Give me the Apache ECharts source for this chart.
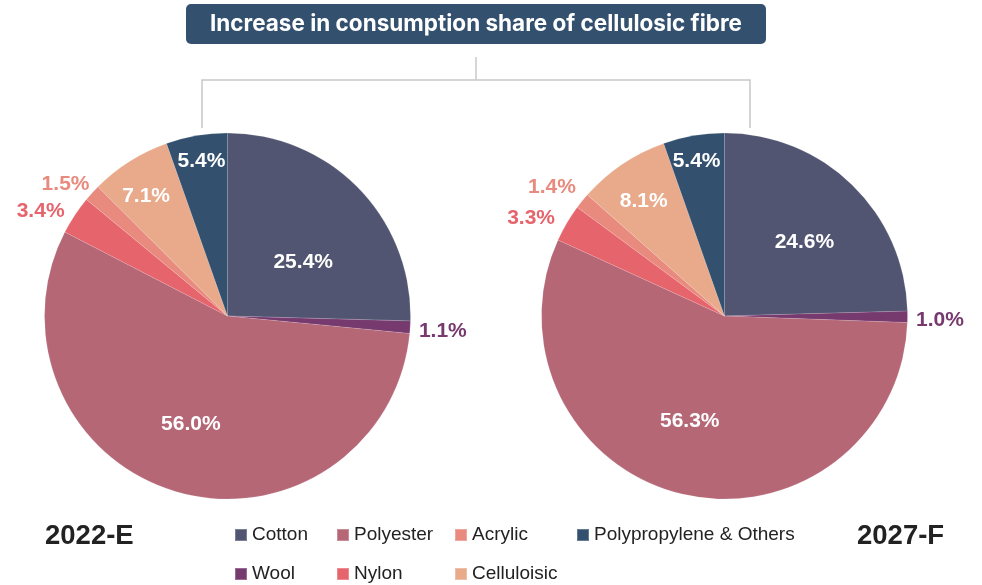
<!DOCTYPE html>
<html>
<head>
<meta charset="utf-8">
<script src="https://cdn.jsdelivr.net/npm/echarts@6/dist/echarts.min.js"></script>
<style>
  html, body { margin: 0; padding: 0; background: #fff; }
  #chart { width: 982px; height: 585px; }
</style>
</head>
<body>
<div id="chart"></div>
<script>
// slice names, in drawing order (clockwise from 12 o'clock)
const fibres = ["Cotton", "Wool", "Polyester", "Nylon", "Acrylic", "Celluloisic", "Polypropylene & Others"];
const share2022 = [25.4, 1.1, 56.0, 3.4, 1.5, 7.1, 5.4];
const share2027 = [24.6, 1.0, 56.3, 3.3, 1.4, 8.1, 5.4];
const colours = ["#525572", "#763a6e", "#b56776", "#e6646c", "#e88a7e", "#e8aa8b", "#33506e"];

// labels outside the pie take the slice colour
const outsideLabel = [false, true, false, true, true, false, false];
// nudges from the default "inside" label spot
const offsets2022 = [[8, 12], [121, 9], [-10, 18], [-108, -53], [-92, -68], [-31, -40], [-10, -62]];
const offsets2027 = [[14, -6], [121, 4], [-13, 13], [-112, -50], [-99, -69], [-28, -36], [-12, -62]];

const chart = echarts.init(document.getElementById("chart"));

function pieData(values, offsets) {
  return fibres.map((name, i) => ({
    name: name,
    value: values[i],
    itemStyle: { color: colours[i] },
    label: {
      offset: offsets[i],
      color: outsideLabel[i] ? colours[i] : "#fff"
    }
  }));
}

function pieSeries(values, offsets, cx) {
  return {
    type: "pie",
    center: [cx, 316],
    radius: [0, 183],
    startAngle: 90,
    clockwise: true,
    silent: true,
    avoidLabelOverlap: false,
    label: {
      show: true,
      position: "inside",
      formatter: p => p.value.toFixed(1) + "%",
      fontFamily: "Liberation Sans",
      fontWeight: "bold",
      fontSize: 21
    },
    labelLine: { show: false },
    itemStyle: { borderColor: "rgba(255,255,255,0.25)", borderWidth: 0.5 },
    data: pieData(values, offsets)
  };
}

// legend columns (as laid out in the picture)
const legendCols = [
  { left: 234, names: ["Cotton", "Wool"] },
  { left: 336, names: ["Polyester", "Nylon"] },
  { left: 454, names: ["Acrylic", "Celluloisic"] },
  { left: 576, names: ["Polypropylene & Others"] }
];

const lineColour = "#c8c8c8";

chart.setOption({
  animation: false,
  legend: legendCols.map(c => ({
    orient: "vertical",
    left: c.left,
    top: 525,
    padding: 0,
    itemGap: 19,
    itemWidth: 12,
    itemHeight: 12,
    icon: "rect",
    selectedMode: false,
    textStyle: { fontFamily: "Liberation Sans", fontSize: 19, color: "#222", lineHeight: 20 },
    data: c.names
  })),
  graphic: [
    { type: "rect", shape: { x: 186, y: 4, width: 580, height: 40, r: 5 }, style: { fill: "#33506e" } },
    {
      type: "text", x: 476, y: 24,
      style: {
        text: "Increase in consumption share of cellulosic fibre",
        fill: "#fff", font: "bold 22.5px Inter", align: "center", verticalAlign: "middle"
      }
    },
    { type: "polyline", shape: { points: [[476, 57], [476, 80]] }, style: { stroke: lineColour, lineWidth: 1.5, fill: null } },
    { type: "polyline", shape: { points: [[202, 128], [202, 80], [750, 80], [750, 128]] }, style: { stroke: lineColour, lineWidth: 1.5, fill: null } },
    { type: "text", x: 45, y: 536, style: { text: "2022-E", fill: "#222", font: "bold 27.5px Liberation Sans", verticalAlign: "middle" } },
    { type: "text", x: 857, y: 536, style: { text: "2027-F", fill: "#222", font: "bold 27.5px Liberation Sans", verticalAlign: "middle" } }
  ],
  series: [
    pieSeries(share2022, offsets2022, 227.5),
    pieSeries(share2027, offsets2027, 724.5)
  ]
});
</script>
</body>
</html>
